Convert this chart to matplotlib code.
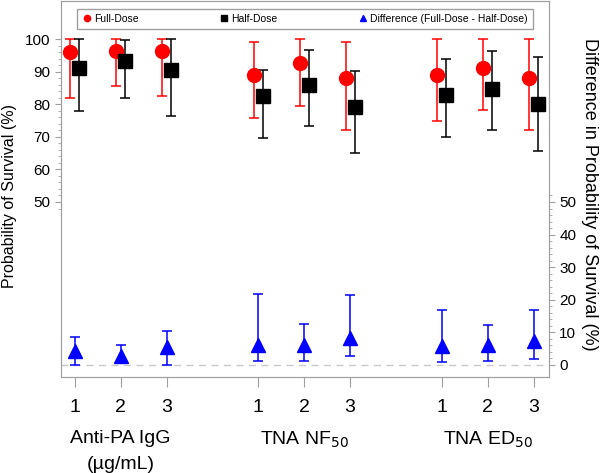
import numpy as np
import matplotlib
matplotlib.use("Agg")
from matplotlib import pyplot as plt
from matplotlib.lines import Line2D
from matplotlib.transforms import blended_transform_factory

plt.rcParams['font.family'] = ['Liberation Sans', 'DejaVu Sans']

# data
pos = [1, 2, 3, 5, 6, 7, 9, 10, 11]
tick_labels = ['1', '2', '3', '1', '2', '3', '1', '2', '3']
groups = ['Anti-PA IgG\n(\u00b5g/mL)', 'TNA NF$_{50}$', 'TNA ED$_{50}$']
group_pos = [2, 6, 10]

full = [96.0, 96.4, 96.4, 88.9, 92.6, 88.0, 88.9, 91.0, 88.0]
full_lo = [81.8, 85.6, 82.5, 75.9, 79.6, 72.2, 75.0, 78.1, 72.2]
full_hi = [100, 100, 100, 99.0, 100, 99.1, 100, 100, 100]

half = [91.0, 93.4, 90.4, 82.4, 85.8, 79.3, 82.8, 84.8, 80.0]
half_lo = [78.0, 81.8, 76.5, 69.7, 73.2, 65.0, 69.8, 72.2, 65.5]
half_hi = [100, 99.6, 100, 90.5, 96.6, 90.1, 94.0, 96.4, 94.4]

diff = [4.3, 2.6, 5.5, 6.2, 6.2, 8.2, 5.9, 6.1, 7.4]
diff_lo = [0.0, 0.5, 0.0, 1.3, 1.3, 2.6, 1.0, 1.2, 1.9]
diff_hi = [8.7, 6.2, 10.3, 21.8, 12.6, 21.6, 16.8, 12.3, 17.0]

pos = np.array(pos, dtype=float)
full = np.array(full); half = np.array(half); diff = np.array(diff)
yerr_full = [full - np.array(full_lo), np.array(full_hi) - full]
yerr_half = [half - np.array(half_lo), np.array(half_hi) - half]
yerr_diff = [diff - np.array(diff_lo), np.array(diff_hi) - diff]

gray = '#a0a0a0'
red = '#ff0000'
blue = '#0000ff'
fig = plt.figure(figsize=(6, 4.73), dpi=100)
ax = fig.add_axes([0.1017, 0.203, 0.813, 0.795])

ax.axhline(0, color='#c8c8d0', ls=(0, (5, 4)), lw=1, zorder=0)

ax.errorbar(pos - 0.1, full, yerr=yerr_full, fmt='o', color=red, ms=10,
            capsize=3.3, elinewidth=1.1, capthick=1.1)
ax.errorbar(pos + 0.1, half, yerr=yerr_half, fmt='s', color='black', ms=9.5,
            capsize=3.3, elinewidth=1.1, capthick=1.1)
ax.errorbar(pos, diff, yerr=yerr_diff, fmt='^', color=blue, ms=9.5,
            capsize=3.3, elinewidth=1.1, capthick=1.1)

ax.set_xlim(0.7, 11.33)
ax.set_ylim(-3.7, 111.7)
ax.set_xticks(pos)
ax.set_xticklabels(tick_labels, fontsize=14)
ax.set_yticks(np.arange(50, 101, 10))
ax.set_yticks(np.arange(48, 101, 2), minor=True)
ax.tick_params(axis='y', labelsize=11, colors=gray, labelcolor='black', length=4)
ax.tick_params(axis='y', which='minor', colors=gray, length=2)
ax.tick_params(axis='x', colors=gray, labelcolor='black', length=7, pad=9)
for s in ax.spines.values():
    s.set_color(gray)
ax.set_ylabel('Probability of Survival (%)', fontsize=11.5, va='center')
ax.yaxis.set_label_coords(-0.105, 0.48)

ax2 = ax.twinx()
ax2.set_ylim(ax.get_ylim())
ax2.set_yticks(np.arange(0, 51, 10))
ax2.set_yticks(np.arange(0, 53, 2), minor=True)
ax2.tick_params(axis='y', labelsize=11, colors=gray, labelcolor='black', length=4)
ax2.tick_params(axis='y', which='minor', colors=gray, length=2)
for s in ax2.spines.values():
    s.set_color(gray)
ax2.set_ylabel('Difference in Probability of Survival (%)', fontsize=13,
               rotation=270, va='center')
ax2.yaxis.set_label_coords(1.083, 0.485)

trans = blended_transform_factory(ax.transData, ax.transAxes)
for g, gp in zip(groups, group_pos):
    ax.text(gp, -0.14, g, transform=trans, ha='center', va='top', fontsize=14,
            linespacing=1.7)

handles = [
    Line2D([], [], ls='none', marker='o', color=red, ms=4.5),
    Line2D([], [], ls='none', marker='s', color='black', ms=4),
    Line2D([], [], ls='none', marker='^', color=blue, ms=4.5),
]
names = ['Full-Dose', 'Half-Dose', 'Difference (Full-Dose - Half-Dose)']
leg = ax2.legend(handles, names, loc='lower left',
                 bbox_to_anchor=(0.033, 0.926, 0.934, 0.055),
                 ncol=3, mode='expand', fontsize=7.5, borderaxespad=0,
                 fancybox=False, framealpha=1, edgecolor=gray,
                 handletextpad=0.2, borderpad=0.45, handlelength=1.0)
leg.get_frame().set_linewidth(1)

fig.savefig('out.png', dpi=100)
